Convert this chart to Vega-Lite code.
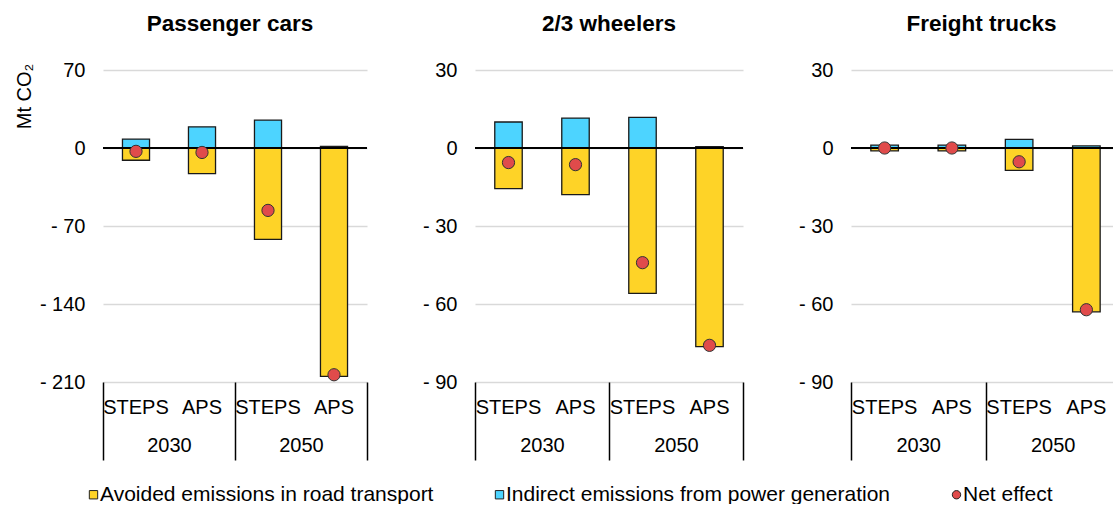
{
  "$schema": "https://vega.github.io/schema/vega-lite/v6.json",
  "background": "white",
  "padding": {"left": 14, "top": 12, "right": 0, "bottom": 0},
  "bounds": "flush",
  "spacing": 108,
  "config": {
    "font": "Liberation Sans",
    "view": {"stroke": null},
    "axis": {"labelFont": "Liberation Sans", "labelFontSize": 20, "labelColor": "black", "titleFont": "Liberation Sans", "titleFontSize": 20, "titleFontWeight": "normal", "titleColor": "black"},
    "title": {"font": "Liberation Sans", "fontSize": 22.5, "fontWeight": "bold", "color": "black", "anchor": "middle", "frame": "group", "offset": 25},
    "legend": {"orient": "bottom", "direction": "horizontal", "offset": 43, "title": null, "padding": -20, "labelFont": "Liberation Sans", "labelFontSize": 21, "labelColor": "black", "symbolSize": 70, "symbolStrokeColor": "#222222", "symbolStrokeWidth": 1, "columnPadding": 55, "labelOffset": -4, "labelLimit": 0}
  },
  "datasets": {
    "d": [
      {"sector": "Passenger cars", "year": "2030", "scenario": "STEPS", "key": "2030 STEPS", "series": "Avoided emissions in road transport", "value": -11},
      {"sector": "Passenger cars", "year": "2030", "scenario": "STEPS", "key": "2030 STEPS", "series": "Indirect emissions from power generation", "value": 8},
      {"sector": "Passenger cars", "year": "2030", "scenario": "STEPS", "key": "2030 STEPS", "series": "Net effect", "value": -3},
      {"sector": "Passenger cars", "year": "2030", "scenario": "APS", "key": "2030 APS", "series": "Avoided emissions in road transport", "value": -23},
      {"sector": "Passenger cars", "year": "2030", "scenario": "APS", "key": "2030 APS", "series": "Indirect emissions from power generation", "value": 19},
      {"sector": "Passenger cars", "year": "2030", "scenario": "APS", "key": "2030 APS", "series": "Net effect", "value": -4},
      {"sector": "Passenger cars", "year": "2050", "scenario": "STEPS", "key": "2050 STEPS", "series": "Avoided emissions in road transport", "value": -82},
      {"sector": "Passenger cars", "year": "2050", "scenario": "STEPS", "key": "2050 STEPS", "series": "Indirect emissions from power generation", "value": 25},
      {"sector": "Passenger cars", "year": "2050", "scenario": "STEPS", "key": "2050 STEPS", "series": "Net effect", "value": -56},
      {"sector": "Passenger cars", "year": "2050", "scenario": "APS", "key": "2050 APS", "series": "Avoided emissions in road transport", "value": -205},
      {"sector": "Passenger cars", "year": "2050", "scenario": "APS", "key": "2050 APS", "series": "Indirect emissions from power generation", "value": 1.5},
      {"sector": "Passenger cars", "year": "2050", "scenario": "APS", "key": "2050 APS", "series": "Net effect", "value": -203.5},
      {"sector": "2/3 wheelers", "year": "2030", "scenario": "STEPS", "key": "2030 STEPS", "series": "Avoided emissions in road transport", "value": -15.6},
      {"sector": "2/3 wheelers", "year": "2030", "scenario": "STEPS", "key": "2030 STEPS", "series": "Indirect emissions from power generation", "value": 10},
      {"sector": "2/3 wheelers", "year": "2030", "scenario": "STEPS", "key": "2030 STEPS", "series": "Net effect", "value": -5.6},
      {"sector": "2/3 wheelers", "year": "2030", "scenario": "APS", "key": "2030 APS", "series": "Avoided emissions in road transport", "value": -17.9},
      {"sector": "2/3 wheelers", "year": "2030", "scenario": "APS", "key": "2030 APS", "series": "Indirect emissions from power generation", "value": 11.5},
      {"sector": "2/3 wheelers", "year": "2030", "scenario": "APS", "key": "2030 APS", "series": "Net effect", "value": -6.4},
      {"sector": "2/3 wheelers", "year": "2050", "scenario": "STEPS", "key": "2050 STEPS", "series": "Avoided emissions in road transport", "value": -55.9},
      {"sector": "2/3 wheelers", "year": "2050", "scenario": "STEPS", "key": "2050 STEPS", "series": "Indirect emissions from power generation", "value": 11.8},
      {"sector": "2/3 wheelers", "year": "2050", "scenario": "STEPS", "key": "2050 STEPS", "series": "Net effect", "value": -44.1},
      {"sector": "2/3 wheelers", "year": "2050", "scenario": "APS", "key": "2050 APS", "series": "Avoided emissions in road transport", "value": -76.4},
      {"sector": "2/3 wheelers", "year": "2050", "scenario": "APS", "key": "2050 APS", "series": "Indirect emissions from power generation", "value": 0.5},
      {"sector": "2/3 wheelers", "year": "2050", "scenario": "APS", "key": "2050 APS", "series": "Net effect", "value": -75.9},
      {"sector": "Freight trucks", "year": "2030", "scenario": "STEPS", "key": "2030 STEPS", "series": "Avoided emissions in road transport", "value": -1.1},
      {"sector": "Freight trucks", "year": "2030", "scenario": "STEPS", "key": "2030 STEPS", "series": "Indirect emissions from power generation", "value": 1.1},
      {"sector": "Freight trucks", "year": "2030", "scenario": "STEPS", "key": "2030 STEPS", "series": "Net effect", "value": 0},
      {"sector": "Freight trucks", "year": "2030", "scenario": "APS", "key": "2030 APS", "series": "Avoided emissions in road transport", "value": -1.1},
      {"sector": "Freight trucks", "year": "2030", "scenario": "APS", "key": "2030 APS", "series": "Indirect emissions from power generation", "value": 1.1},
      {"sector": "Freight trucks", "year": "2030", "scenario": "APS", "key": "2030 APS", "series": "Net effect", "value": 0},
      {"sector": "Freight trucks", "year": "2050", "scenario": "STEPS", "key": "2050 STEPS", "series": "Avoided emissions in road transport", "value": -8.6},
      {"sector": "Freight trucks", "year": "2050", "scenario": "STEPS", "key": "2050 STEPS", "series": "Indirect emissions from power generation", "value": 3.3},
      {"sector": "Freight trucks", "year": "2050", "scenario": "STEPS", "key": "2050 STEPS", "series": "Net effect", "value": -5.3},
      {"sector": "Freight trucks", "year": "2050", "scenario": "APS", "key": "2050 APS", "series": "Avoided emissions in road transport", "value": -63},
      {"sector": "Freight trucks", "year": "2050", "scenario": "APS", "key": "2050 APS", "series": "Indirect emissions from power generation", "value": 0.8},
      {"sector": "Freight trucks", "year": "2050", "scenario": "APS", "key": "2050 APS", "series": "Net effect", "value": -62.2}
    ]
  },
  "hconcat": [
    {
      "title": {"text": "Passenger cars", "dx": -5},
      "width": 264, "height": 312,
      "data": {"name": "d"},
      "transform": [{"filter": "datum.sector === 'Passenger cars'"}],
      "resolve": {"scale": {"x": "independent"}},
      "layer": [
        {
          "transform": [{"filter": "datum.series !== 'Net effect'"}],
          "mark": {"type": "bar", "stroke": "#1a1a1a", "strokeWidth": 1.3},
          "encoding": {
            "x": {"field": "key", "type": "nominal", "sort": ["2030 STEPS", "2030 APS", "2050 STEPS", "2050 APS"], "scale": {"paddingInner": 0.59, "paddingOuter": 0.295}, "axis": {"title": null, "orient": "bottom", "labelExpr": "split(datum.value, ' ')[1]", "labelAngle": 0, "domain": false, "ticks": false, "grid": false, "labelPadding": 15}},
            "y": {"field": "value", "type": "quantitative", "stack": "zero", "scale": {"domain": [-210, 70], "nice": false}, "axis": {"values": [-210, -140, -70, 0, 70], "labelExpr": "datum.value < 0 ? '- ' + abs(datum.value) : datum.label", "domain": false, "ticks": false, "labelPadding": 18, "gridColor": "#d9d9d9", "gridWidth": 1.5, "title": "Mt CO₂", "titleAngle": -90, "titleX": -79, "titleY": 26, "titleAlign": "center", "titleBaseline": "middle"}},
            "fill": {"field": "series", "type": "nominal", "scale": {"domain": ["Avoided emissions in road transport", "Indirect emissions from power generation", "Net effect"], "range": ["#FED327", "#4DD4FF", "#E04B4B"]}}
          }
        },
        {
          "mark": {"type": "rule", "color": "black", "strokeWidth": 1.5},
          "encoding": {"y": {"datum": 0}}
        },
        {
          "transform": [{"filter": "datum.series === 'Net effect'"}],
          "mark": {"type": "point", "filled": true, "size": 150, "stroke": "#333333", "strokeWidth": 1, "opacity": 1},
          "encoding": {
            "x": {"field": "key", "type": "nominal", "sort": ["2030 STEPS", "2030 APS", "2050 STEPS", "2050 APS"], "scale": {"paddingInner": 0.59, "paddingOuter": 0.295}, "axis": null},
            "y": {"field": "value", "type": "quantitative"},
            "fill": {"field": "series", "type": "nominal"},
            "shape": {"field": "series", "type": "nominal", "scale": {"domain": ["Avoided emissions in road transport", "Indirect emissions from power generation", "Net effect"], "range": ["square", "square", "circle"]}}
          }
        },
        {
          "mark": {"type": "tick", "opacity": 0},
          "encoding": {
            "x": {"field": "year", "type": "nominal", "scale": {"paddingInner": 0, "paddingOuter": 0}, "axis": {"title": null, "orient": "bottom", "domain": false, "ticks": true, "tickBand": "extent", "tickSize": 78, "tickColor": "black", "tickWidth": 1.5, "labelPadding": -25, "labelAngle": 0, "grid": false}}
          }
        }
      ]
    },
    {
      "title": "2/3 wheelers",
      "width": 268, "height": 312,
      "data": {"name": "d"},
      "transform": [{"filter": "datum.sector === '2/3 wheelers'"}],
      "resolve": {"scale": {"x": "independent"}},
      "layer": [
        {
          "transform": [{"filter": "datum.series !== 'Net effect'"}],
          "mark": {"type": "bar", "stroke": "#1a1a1a", "strokeWidth": 1.3},
          "encoding": {
            "x": {"field": "key", "type": "nominal", "sort": ["2030 STEPS", "2030 APS", "2050 STEPS", "2050 APS"], "scale": {"paddingInner": 0.59, "paddingOuter": 0.295}, "axis": {"title": null, "orient": "bottom", "labelExpr": "split(datum.value, ' ')[1]", "labelAngle": 0, "domain": false, "ticks": false, "grid": false, "labelPadding": 15}},
            "y": {"field": "value", "type": "quantitative", "stack": "zero", "scale": {"domain": [-90, 30], "nice": false}, "axis": {"values": [-90, -60, -30, 0, 30], "labelExpr": "datum.value < 0 ? '- ' + abs(datum.value) : datum.label", "domain": false, "ticks": false, "labelPadding": 18, "gridColor": "#d9d9d9", "gridWidth": 1.5, "title": null}},
            "fill": {"field": "series", "type": "nominal"}
          }
        },
        {
          "mark": {"type": "rule", "color": "black", "strokeWidth": 1.5},
          "encoding": {"y": {"datum": 0}}
        },
        {
          "transform": [{"filter": "datum.series === 'Net effect'"}],
          "mark": {"type": "point", "filled": true, "size": 150, "stroke": "#333333", "strokeWidth": 1, "opacity": 1},
          "encoding": {
            "x": {"field": "key", "type": "nominal", "sort": ["2030 STEPS", "2030 APS", "2050 STEPS", "2050 APS"], "scale": {"paddingInner": 0.59, "paddingOuter": 0.295}, "axis": null},
            "y": {"field": "value", "type": "quantitative"},
            "fill": {"field": "series", "type": "nominal"},
            "shape": {"field": "series", "type": "nominal"}
          }
        },
        {
          "mark": {"type": "tick", "opacity": 0},
          "encoding": {
            "x": {"field": "year", "type": "nominal", "scale": {"paddingInner": 0, "paddingOuter": 0}, "axis": {"title": null, "orient": "bottom", "domain": false, "ticks": true, "tickBand": "extent", "tickSize": 78, "tickColor": "black", "tickWidth": 1.5, "labelPadding": -25, "labelAngle": 0, "grid": false}}
          }
        }
      ]
    },
    {
      "title": {"text": "Freight trucks", "dx": -4},
      "width": 269, "height": 312,
      "data": {"name": "d"},
      "transform": [{"filter": "datum.sector === 'Freight trucks'"}],
      "resolve": {"scale": {"x": "independent"}},
      "layer": [
        {
          "transform": [{"filter": "datum.series !== 'Net effect'"}],
          "mark": {"type": "bar", "stroke": "#1a1a1a", "strokeWidth": 1.3},
          "encoding": {
            "x": {"field": "key", "type": "nominal", "sort": ["2030 STEPS", "2030 APS", "2050 STEPS", "2050 APS"], "scale": {"paddingInner": 0.59, "paddingOuter": 0.295}, "axis": {"title": null, "orient": "bottom", "labelExpr": "split(datum.value, ' ')[1]", "labelAngle": 0, "domain": false, "ticks": false, "grid": false, "labelPadding": 15}},
            "y": {"field": "value", "type": "quantitative", "stack": "zero", "scale": {"domain": [-90, 30], "nice": false}, "axis": {"values": [-90, -60, -30, 0, 30], "labelExpr": "datum.value < 0 ? '- ' + abs(datum.value) : datum.label", "domain": false, "ticks": false, "labelPadding": 18, "gridColor": "#d9d9d9", "gridWidth": 1.5, "title": null}},
            "fill": {"field": "series", "type": "nominal"}
          }
        },
        {
          "mark": {"type": "rule", "color": "black", "strokeWidth": 1.5},
          "encoding": {"y": {"datum": 0}}
        },
        {
          "transform": [{"filter": "datum.series === 'Net effect'"}],
          "mark": {"type": "point", "filled": true, "size": 150, "stroke": "#333333", "strokeWidth": 1, "opacity": 1},
          "encoding": {
            "x": {"field": "key", "type": "nominal", "sort": ["2030 STEPS", "2030 APS", "2050 STEPS", "2050 APS"], "scale": {"paddingInner": 0.59, "paddingOuter": 0.295}, "axis": null},
            "y": {"field": "value", "type": "quantitative"},
            "fill": {"field": "series", "type": "nominal"},
            "shape": {"field": "series", "type": "nominal"}
          }
        },
        {
          "mark": {"type": "tick", "opacity": 0},
          "encoding": {
            "x": {"field": "year", "type": "nominal", "scale": {"paddingInner": 0, "paddingOuter": 0}, "axis": {"title": null, "orient": "bottom", "domain": false, "ticks": true, "tickBand": "extent", "tickSize": 78, "tickColor": "black", "tickWidth": 1.5, "labelPadding": -25, "labelAngle": 0, "grid": false}}
          }
        }
      ]
    }
  ]
}
